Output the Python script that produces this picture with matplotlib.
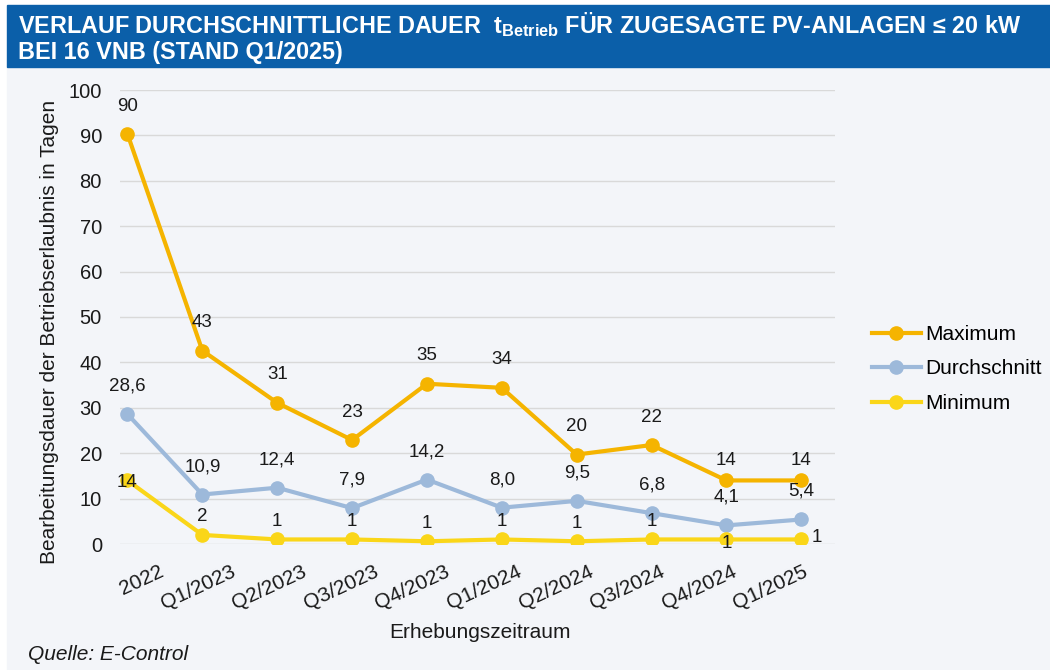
import matplotlib.pyplot as plt
from matplotlib.transforms import ScaledTranslation
from matplotlib.patches import Rectangle

plt.rcParams['font.family'] = ['Liberation Sans', 'DejaVu Sans']
plt.rcParams['mathtext.fontset'] = 'custom'
plt.rcParams['mathtext.rm'] = 'Liberation Sans:bold'
plt.rcParams['mathtext.bf'] = 'Liberation Sans:bold'

# data
periods = ['2022', 'Q1/2023', 'Q2/2023', 'Q3/2023', 'Q4/2023', 'Q1/2024',
           'Q2/2024', 'Q3/2024', 'Q4/2024', 'Q1/2025']
maximum = [90.3, 42.6, 31.1, 22.9, 35.3, 34.4, 19.7, 21.8, 14.0, 14.0]
maximum_labels = ['90', '43', '31', '23', '35', '34', '20', '22', '14', '14']
average = [28.6, 10.9, 12.4, 7.9, 14.2, 8.0, 9.5, 6.8, 4.1, 5.4]
average_labels = ['28,6', '10,9', '12,4', '7,9', '14,2', '8,0', '9,5', '6,8', '4,1', '5,4']
minimum = [14, 2, 1, 1, 0.6, 1, 0.6, 1, 1, 1]
minimum_labels = ['14', '2', '1', '1', '1', '1', '1', '1', '1', '1']

c_max = '#f5b400'
c_avg = '#9db9da'
c_min = '#fad619'
bg = '#f3f5f9'
txt = '#1a1a1a'

fig = plt.figure(figsize=(10.5, 6.7), dpi=100)
fig.patch.set_facecolor('white')

# background panel and title bar
fig.patches.append(Rectangle((7 / 1050, 0), 1 - 7 / 1050, 1 - 67 / 670,
                             transform=fig.transFigure, color=bg, zorder=-2))
fig.patches.append(Rectangle((7 / 1050, 1 - 67 / 670), 1 - 7 / 1050, 62 / 670,
                             transform=fig.transFigure, color='#0b5fa9', zorder=-2))
fig.text(18 / 1050, 1 - 25 / 670,
         r'VERLAUF DURCHSCHNITTLICHE DAUER  t$_{\mathrm{Betrieb}}$ FÜR ZUGESAGTE PV-ANLAGEN ≤ 20 kW',
         color='white', fontsize=16.8, fontweight='bold', va='center', ha='left')
fig.text(18 / 1050, 1 - 52 / 670, 'BEI 16 VNB (STAND Q1/2025)',
         color='white', fontsize=16.8, fontweight='bold', va='center', ha='left')

ax = fig.add_axes([120 / 1050, 1 - 544 / 670, 715 / 1050, 454 / 670], zorder=1)
ax.set_facecolor(bg)
x = list(range(len(periods)))

ax.plot(x, maximum, '-o', color=c_max, lw=3, ms=9.5, label='Maximum', zorder=3)
ax.plot(x, average, '-o', color=c_avg, lw=3, ms=9.5, label='Durchschnitt', zorder=3)
ax.plot(x, minimum, '-o', color=c_min, lw=3, ms=9.5, label='Minimum', zorder=4)

ax.set_ylim(0, 100)
ax.set_xlim(-0.1, 9.45)
ax.set_yticks(range(0, 101, 10))
ax.grid(axis='y', color='#d9d9d9', lw=1)
ax.set_axisbelow(True)
for s in ax.spines.values():
    s.set_visible(False)
ax.tick_params(length=0, labelsize=14.5, colors=txt)
ax.tick_params(axis='y', pad=13)
ax.tick_params(axis='x', pad=13)
ax.set_xticks(x)
ax.set_xticklabels(periods, rotation=25, ha='right', va='top', rotation_mode='anchor',
                   fontsize=15)
for i, lab in enumerate(ax.get_xticklabels()):
    dx = (31 - 3.3 * i) / 100
    lab.set_transform(lab.get_transform() + ScaledTranslation(dx, 0, fig.dpi_scale_trans))

# data labels
def put(xi, yi, s, dx, dy, ha='center'):
    ax.annotate(s, (xi, yi), xytext=(dx, dy), textcoords='offset pixels',
                ha=ha, va='center', fontsize=13.5, color=txt, zorder=5)

for i in x:
    dy = 20 if i >= 8 else 28
    put(i, maximum[i], maximum_labels[i], 0, dy)
    put(i, average[i], average_labels[i], 0, 28)
for i in x:
    if i == 0:
        put(i, minimum[i], minimum_labels[i], 0, -2)
    elif i == 8:
        put(i, minimum[i], minimum_labels[i], 0, -4)
    elif i == 9:
        put(i, minimum[i], minimum_labels[i], 10, 2, ha='left')
    else:
        put(i, minimum[i], minimum_labels[i], 0, 18)

fig.text(50 / 1050, 1 - 332 / 670, 'Bearbeitungsdauer der Betriebserlaubnis in Tagen',
         rotation=90, ha='center', va='center', fontsize=15, color=txt)
fig.text(480 / 1050, 1 - 632 / 670, 'Erhebungszeitraum', ha='center', va='center',
         fontsize=15, color=txt)
fig.text(28 / 1050, 1 - 655 / 670, 'Quelle: E-Control', ha='left', va='center',
         fontsize=15, style='italic', color=txt)

fig.legend(loc='center left', bbox_to_anchor=(872 / 1050, 1 - 369 / 670), frameon=False,
           fontsize=15, handlelength=2.35, handletextpad=0.2, labelspacing=0.75,
           borderpad=0, borderaxespad=0)

fig.savefig('out.png', dpi=100, facecolor=fig.get_facecolor())
